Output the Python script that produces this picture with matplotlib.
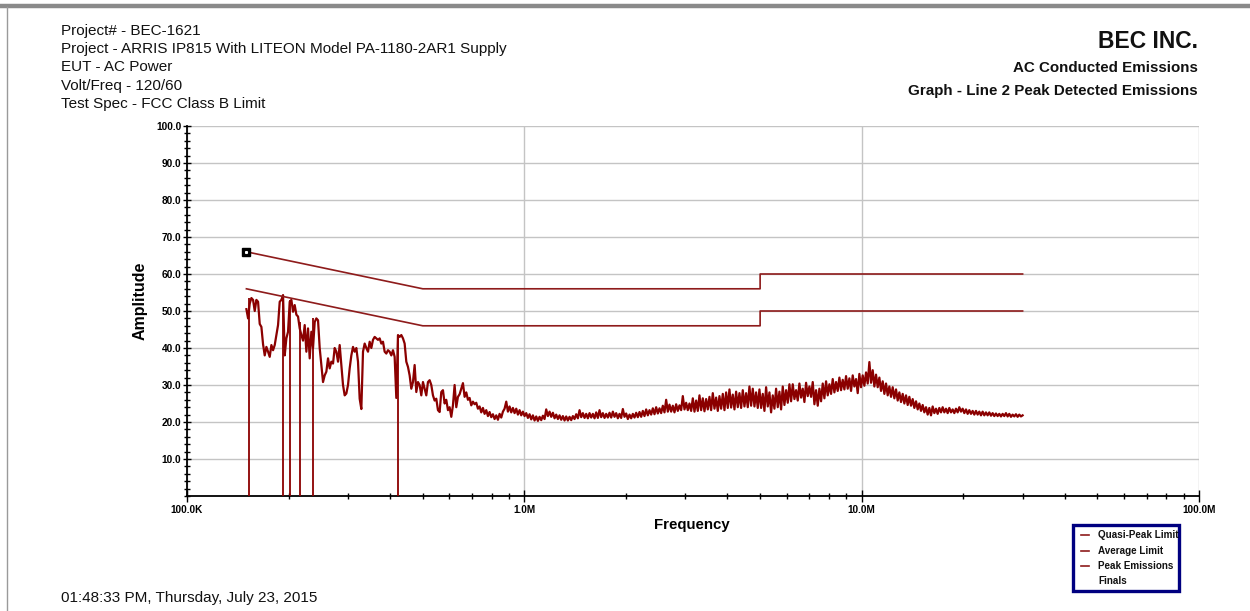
import numpy as np
import matplotlib
matplotlib.use("Agg")
import matplotlib.pyplot as plt
from matplotlib.lines import Line2D
from matplotlib.patches import Rectangle
from matplotlib.ticker import MultipleLocator, LogLocator, NullFormatter

plt.rcParams['font.family'] = ['Liberation Sans', 'DejaVu Sans']

# ---------------------------------------------------------------- data
header_left = [
    "Project# - BEC-1621",
    "Project - ARRIS IP815 With LITEON Model PA-1180-2AR1 Supply",
    "EUT - AC Power",
    "Volt/Freq - 120/60",
    "Test Spec - FCC Class B Limit",
]
company = "BEC INC."
header_right = ["AC Conducted Emissions", "Graph - Line 2 Peak Detected Emissions"]
timestamp = "01:48:33 PM, Thursday, July 23, 2015"

x_tick_mhz = [0.1, 1.0, 10.0, 100.0]
x_tick_labels = ["100.0K", "1.0M", "10.0M", "100.0M"]
y_tick_db = [10, 20, 30, 40, 50, 60, 70, 80, 90, 100]
y_tick_labels = ["10.0", "20.0", "30.0", "40.0", "50.0", "60.0", "70.0", "80.0", "90.0", "100.0"]

# FCC Class B conducted limits (MHz, dBuV)
qp_freq_mhz = [0.15, 0.5, 0.5, 5.0, 5.0, 30.0]
qp_level_db = [66.0, 56.0, 56.0, 56.0, 60.0, 60.0]
avg_freq_mhz = [0.15, 0.5, 0.5, 5.0, 5.0, 30.0]
avg_level_db = [56.0, 46.0, 46.0, 46.0, 50.0, 50.0]

# Peak sweep, 150 kHz to 30 MHz, log-spaced sweep points
sweep_start_mhz = 0.15
sweep_stop_mhz = 30.0

peak_low_band = [
    50.5, 48.0, 52.0, 53.5, 53.0, 50.0, 53.0, 52.5, 46.5, 45.7,
    41.0, 38.0, 40.3, 39.0, 37.6, 40.8, 39.4, 40.8, 43.5, 46.2,
    52.5, 53.0, 54.3, 38.0, 42.6, 44.4, 52.5, 53.0, 49.8, 51.6,
    49.0, 48.5, 45.3, 43.5, 42.0, 46.2, 39.0, 45.3, 37.2, 44.4,
    40.0, 47.0, 48.0, 47.5, 40.0, 35.4, 30.8, 32.6, 33.6, 37.2,
    34.5, 36.3, 35.8, 40.0, 39.0, 36.3, 40.8, 35.4, 30.0, 27.2,
    27.7, 30.0, 34.5, 38.0, 40.3, 39.0, 40.0, 36.3, 26.3, 23.5,
    39.0, 41.2, 40.0, 39.0, 41.7, 40.0, 42.2, 43.0, 42.6, 42.2,
    42.6, 41.2, 41.7, 39.0, 38.5, 39.4, 39.0, 38.0, 39.4, 37.6,
    26.5, 43.5, 43.0, 43.5, 42.6, 41.2, 36.3, 34.9, 32.6, 29.0,
    30.8, 35.4, 28.1, 30.8, 30.0, 27.2, 30.8, 29.0, 27.2, 30.8,
    31.3, 30.0, 27.2, 25.8, 26.3, 23.2, 22.7, 28.1,
]

peak_mid_band = [
    28.6, 25.0, 26.0, 23.2, 24.0, 21.4, 24.5, 30.0, 24.0, 26.8,
    27.5, 29.0, 30.5, 26.8, 28.0, 26.0, 26.5, 24.5, 25.5, 24.8,
    25.2, 23.6, 24.2, 22.6, 23.8, 22.2, 23.2, 21.6, 22.7, 21.3,
    22.1, 20.8, 21.8, 20.6, 22.2, 21.2, 22.8, 23.6, 25.5, 22.8,
    24.2, 22.6, 23.8, 22.4, 23.6, 22.0, 23.2, 21.8, 22.8, 21.6,
    22.4, 21.1, 22.1, 20.7, 21.8, 20.4, 21.5, 20.3, 21.4, 20.5,
    21.7, 20.8, 23.4, 21.6, 22.8, 21.4, 22.5, 21.0, 22.0, 20.8,
    21.8, 20.6, 21.6, 20.4, 21.5, 20.4, 21.4, 20.5, 21.6, 20.8,
    22.1, 21.0, 23.2, 21.3, 22.4, 21.1, 22.2, 21.0, 22.4, 21.2,
    22.2, 21.0, 22.6, 21.1, 23.2, 21.3, 22.4, 21.1, 22.2, 21.2,
    22.5, 21.2, 22.8, 21.4, 22.4, 21.0, 22.2, 21.1, 23.5, 21.4,
    22.3, 20.8, 22.0, 21.0, 22.2, 21.2, 22.5, 21.3, 22.7, 21.4,
    23.0, 21.6, 23.4, 21.8, 23.2, 22.0, 23.7, 22.1, 24.0, 22.3,
    23.7, 22.4, 24.4, 22.6, 26.0, 22.8, 24.7, 22.8, 24.4, 22.6,
    24.8, 23.0, 24.5, 23.2, 27.0, 23.4, 25.2, 23.2, 25.0, 23.0,
    26.4, 22.8, 25.8, 23.0, 27.2, 23.2, 26.4, 22.9, 26.2, 23.4,
    26.8, 23.2, 27.8, 23.6, 26.6, 23.0, 27.0, 23.6, 27.6, 23.2,
    28.0, 23.8, 28.8, 23.9, 27.4, 23.4, 28.2, 24.0, 27.8, 23.8,
    28.6, 24.2, 27.8, 24.0, 29.6, 24.4, 29.0, 24.2, 28.0, 23.8,
]

peak_high_band = [
    28.8, 23.8, 27.6, 23.0, 29.4, 24.2, 28.0, 22.6, 27.2, 23.6,
    29.0, 24.0, 28.2, 23.4, 29.6, 24.6, 28.6, 25.2, 30.2, 25.6,
    30.2, 26.2, 28.6, 25.8, 30.4, 26.6, 29.0, 25.4, 30.6, 27.0,
    29.6, 26.8, 30.8, 24.8, 28.6, 24.4, 29.0, 25.6, 30.4, 26.4,
    31.0, 27.2, 30.2, 27.6, 31.6, 28.0, 30.8, 28.4, 32.0, 28.6,
    31.4, 28.8, 32.4, 29.0, 31.8, 28.4, 32.6, 29.6, 31.6, 27.8,
    33.0, 29.4, 32.6, 29.8, 33.4, 30.4, 36.2, 30.6, 34.0, 29.6,
    32.8, 29.4, 32.0, 28.4, 31.0, 27.6, 30.4, 27.2, 29.6, 26.8,
    29.4, 26.4, 28.8, 25.8, 28.0, 25.4, 27.6, 25.0, 27.2, 24.6,
    26.8, 24.4, 26.2, 23.8, 25.6, 23.4, 25.0, 23.0, 24.6, 22.6,
    24.0, 22.0, 23.8, 21.8, 24.2, 22.4, 23.6, 22.2, 23.8, 22.6,
    24.0, 22.6, 23.6, 22.4, 23.8, 22.6, 23.4, 22.4, 23.6, 22.6,
    24.0, 22.8, 23.6, 22.4, 23.4, 22.2, 23.2, 22.2, 23.0, 22.0,
    23.0, 22.0, 22.8, 21.8, 22.8, 21.8, 22.6, 21.8, 22.6, 21.7,
    22.4, 21.6, 22.3, 21.6, 22.2, 21.5, 22.2, 21.6, 22.4, 21.5,
    22.2, 21.4, 22.0, 21.5, 22.1, 21.4, 22.0, 21.5, 21.8,
]

# receiver drop-outs in the peak sweep (MHz, level the trace falls from)
dropout_mhz = [0.153, 0.192, 0.202, 0.217, 0.237, 0.422]
dropout_top_db = [53.5, 54.3, 53.0, 47.0, 48.0, 43.5]

legend_labels = ["Quasi-Peak Limit", "Average Limit", "Peak Emissions", "Finals"]

# ---------------------------------------------------------------- figure
W, H = 1250, 611
TRACE = "#8b0000"
LIMIT = "#8e1b1b"
GRID = "#c4c4c4"
TEXT = "#111111"


def fx(px):
    return px / W


def fy(py):
    return 1 - py / H


fig = plt.figure(figsize=(W / 100, H / 100), dpi=100)
fig.patch.set_facecolor("white")

ax = fig.add_axes([fx(187), fy(496), (1199 - 187) / W, (496 - 126) / H])
ax.set_xscale("log")
ax.set_xlim(0.1, 100.0)
ax.set_ylim(0, 100)

peak_levels = peak_low_band + peak_mid_band + peak_high_band
sweep_mhz = np.geomspace(sweep_start_mhz, sweep_stop_mhz, len(peak_levels))

ax.plot(sweep_mhz, peak_levels, color=TRACE, lw=1.6, zorder=3)
ax.vlines(dropout_mhz, 0, dropout_top_db, color=TRACE, lw=1.3, zorder=3)
ax.plot(qp_freq_mhz, qp_level_db, color=LIMIT, lw=1.2, zorder=4)
ax.plot(avg_freq_mhz, avg_level_db, color=LIMIT, lw=1.2, zorder=4)
ax.plot([qp_freq_mhz[0]], [qp_level_db[0]], marker="s", ms=5.5,
        mfc="black", mec="black", zorder=5)
ax.plot([qp_freq_mhz[0]], [qp_level_db[0]], marker="s", ms=1.2,
        mfc="white", mec="white", zorder=6)

# axes styling
for side in ("top", "right"):
    ax.spines[side].set_visible(False)
for side in ("left", "bottom"):
    ax.spines[side].set_linewidth(1.3)
    ax.spines[side].set_color("black")

ax.set_yticks(y_tick_db, y_tick_labels, fontsize=7.3, fontweight="bold")
ax.yaxis.set_minor_locator(MultipleLocator(2))
ax.set_xticks(x_tick_mhz, x_tick_labels, fontsize=7.2, fontweight="bold")
ax.xaxis.set_minor_locator(LogLocator(base=10, subs=np.arange(2, 10)))
ax.xaxis.set_minor_formatter(NullFormatter())

ax.tick_params(axis="y", which="major", direction="inout", length=6, width=1, pad=1)
ax.tick_params(axis="y", which="minor", direction="inout", length=4.5, width=1)
ax.tick_params(axis="x", which="major", direction="inout", length=8.5, width=1, pad=2)
ax.tick_params(axis="x", which="minor", direction="inout", length=4.8, width=1)

ax.grid(which="major", color=GRID, lw=1)
ax.set_axisbelow(True)

ax.set_ylabel("Amplitude", fontsize=11.5, fontweight="bold")
ax.yaxis.set_label_coords((148 - 187) / (1199 - 187), (496 - 301) / (496 - 126))
ax.set_xlabel("Frequency", fontsize=10.8, fontweight="bold")
ax.xaxis.set_label_coords((692 - 187) / (1199 - 187), (496 - 518) / (496 - 126))

# header text
for i, line in enumerate(header_left):
    fig.text(fx(61), fy(31 + i * 18.2), line, fontsize=11,
             ha="left", va="center", color=TEXT)
fig.text(fx(1198), fy(41), company, fontsize=16.5, fontweight="bold",
         ha="right", va="center", color=TEXT)
for i, line in enumerate(header_right):
    fig.text(fx(1198), fy(68 + i * 23.5), line, fontsize=10.9, fontweight="bold",
             ha="right", va="center", color=TEXT)
fig.text(fx(61), fy(598), timestamp, fontsize=11, ha="left", va="center",
         color=TEXT)

# legend box
fig.add_artist(Rectangle((fx(1073), fy(591)), 106 / W, 66 / H,
                         transform=fig.transFigure, facecolor="white",
                         edgecolor="#000080", lw=2.4, zorder=10))
for i, label in enumerate(legend_labels):
    row_y = fy(535 + i * 15.5)
    if i < 3:
        fig.add_artist(Line2D([fx(1081), fx(1089)], [row_y, row_y],
                              transform=fig.transFigure, color=LIMIT, lw=1.2,
                              zorder=11))
    fig.text(fx(1098), row_y, label, fontsize=7.1, fontweight="bold",
             ha="left", va="center", color=TEXT, zorder=11)

# page frame
fig.add_artist(Line2D([0, 1], [fy(5.5), fy(5.5)], transform=fig.transFigure,
                      color="#8a8a8a", lw=3.2))
fig.add_artist(Line2D([fx(6.8), fx(6.8)], [fy(7), 0], transform=fig.transFigure,
                      color="#9a9a9a", lw=1.0))

fig.savefig("out.png", dpi=100)
